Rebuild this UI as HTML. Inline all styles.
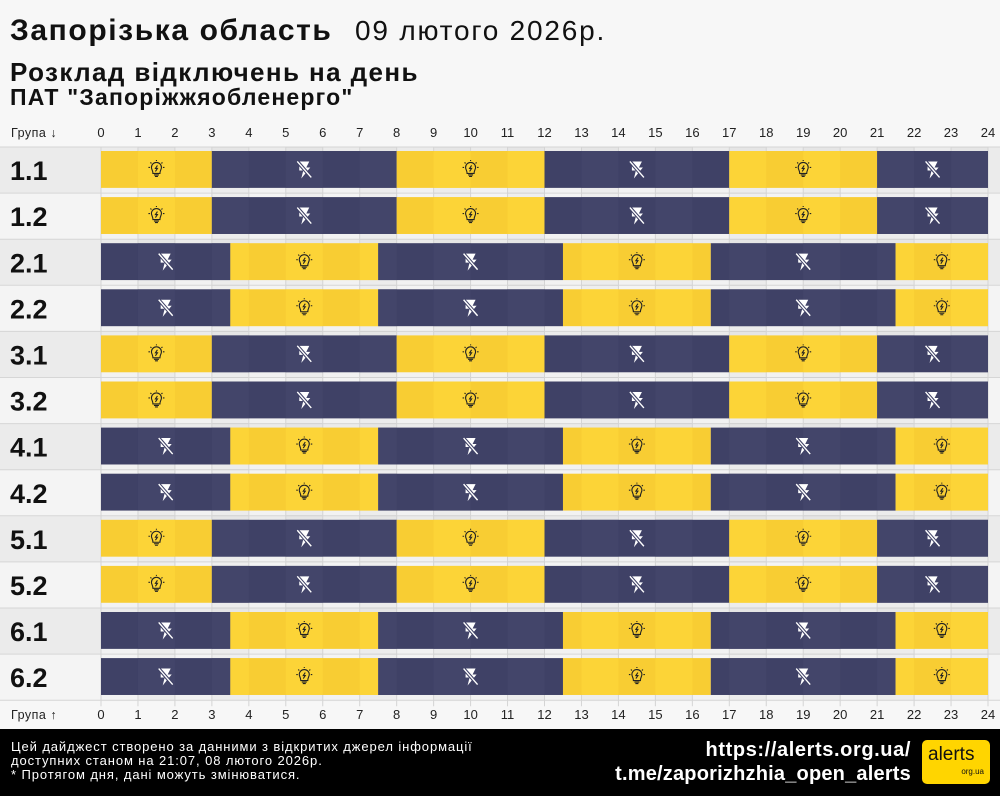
<!DOCTYPE html>
<html><head><meta charset="utf-8"><style>
body{margin:0;width:1000px;height:796px;background:#f7f7f7;font-family:"Liberation Sans",sans-serif;overflow:hidden;position:relative}
.t{position:absolute;white-space:nowrap;color:#111}
</style></head><body>
<div class="t" style="left:10px;top:14px;font-size:30px;font-weight:bold;letter-spacing:1.6px">Запорізька область</div>
<div class="t" style="left:355px;top:15px;font-size:28px;letter-spacing:1.8px">09 лютого 2026р.</div>
<div class="t" style="left:10px;top:57px;font-size:26px;font-weight:bold;letter-spacing:1.4px">Розклад відключень на день</div>
<div class="t" style="left:10px;top:84px;font-size:23px;font-weight:bold;letter-spacing:1.2px">ПАТ "Запоріжжяобленерго"</div>
<svg id="chart" width="1000" height="729" style="position:absolute;left:0;top:0"></svg>
<div style="position:absolute;left:0;top:729px;width:1000px;height:67px;background:#000"></div>
<div class="t" style="left:11px;top:740px;font-size:13px;line-height:14px;color:#fff;letter-spacing:0.9px">Цей дайджест створено за данними з відкритих джерел інформації<br>доступних станом на 21:07, 08 лютого 2026р.<br>* Протягом дня, дані можуть змінюватися.</div>
<div class="t" style="right:89px;top:739px;font-size:20px;font-weight:bold;color:#fff;letter-spacing:0.6px">https://alerts.org.ua/</div>
<div class="t" style="right:89px;top:763px;font-size:20px;font-weight:bold;color:#fff;letter-spacing:0.2px">t.me/zaporizhzhia_open_alerts</div>
<div style="position:absolute;left:922px;top:740px;width:68px;height:44px;background:#ffd500;border-radius:5px">
<div style="position:absolute;left:6px;top:4px;font-size:19px;color:#111">alerts</div>
<div style="position:absolute;right:6px;top:27px;font-size:8px;color:#111">org.ua</div></div>
<script>
const groups=["1.1","1.2","2.1","2.2","3.1","3.2","4.1","4.2","5.1","5.2","6.1","6.2"];
const hourTicks=[0,1,2,3,4,5,6,7,8,9,10,11,12,13,14,15,16,17,18,19,20,21,22,23,24];
// segments: [start,end,on(1)/off(0)]
const scheduleA=[[0,3,1],[3,8,0],[8,12,1],[12,17,0],[17,21,1],[21,24,0]];
const scheduleB=[[0,3.5,0],[3.5,7.5,1],[7.5,12.5,0],[12.5,16.5,1],[16.5,21.5,0],[21.5,24,1]];
const groupSchedule=["A","A","B","B","A","A","B","B","A","A","B","B"];
const NS="http://www.w3.org/2000/svg",svg=document.getElementById('chart');
const x0=101,x1=988,top0=147,pitch=46.1;
const X=h=>x0+(x1-x0)*h/24;
const Y=i=>top0+i*pitch;
function mk(t,a,p){const e=document.createElementNS(NS,t);for(const k in a)e.setAttribute(k,a[k]);(p||svg).appendChild(e);return e}
groups.forEach((g,i)=>{
 const r=mk('rect',{x:0,y:Y(i),width:1000,height:pitch,fill:i%2?'#f4f4f4':'#ebebeb'});
 
 
 mk('rect',{x:x0,y:Y(i)+pitch*0.83,width:x1-x0,height:pitch*0.17+1,fill:'#f2f2f2'});
 mk('line',{x1:0,x2:1000,y1:Y(i),y2:Y(i),stroke:'#d6d6d6','stroke-width':1});
});
hourTicks.forEach(h=>{if(h<24&&h%2==1)mk('rect',{x:X(h),y:top0,width:X(1)-X(0),height:pitch*12,fill:'#000','fill-opacity':0.025});
 mk('line',{x1:X(h),x2:X(h),y1:top0,y2:top0+pitch*12+6,stroke:'#d4d4d4','stroke-width':1});});
function bulb(cx,cy){const g=mk('g',{transform:`translate(${cx},${cy})`,fill:'none',stroke:'#222','stroke-width':1.1});
 mk('path',{d:'M-3.5,4 C-3.5,1 -5,0 -5,-2 A5,5 0 1 1 5,-2 C5,0 3.5,1 3.5,4 Z M-2.5,5.5 H2.5 M-1.5,7 H1.5 M1,-4 L-1,-1 H1 L-1,2 M-8,-2 H-6.5 M8,-2 H6.5 M-6,-7 L-5,-6 M6,-7 L5,-6 M0,-9.5 V-8.5'},g);return g}
function bolt(cx,cy){const g=mk('g',{transform:`translate(${cx},${cy})`});
 mk('path',{d:'M-5,-8 L5,-8 L2,-2 L6,-2 L-3,9 L-1,1 L-5,1 Z',fill:'#fff'},g);
 mk('line',{x1:-7,y1:-8,x2:7,y2:8,stroke:'#3f4166','stroke-width':3.5},g);
 mk('line',{x1:-7,y1:-8,x2:7,y2:8,stroke:'#fff','stroke-width':1.4},g);return g}
groups.forEach((g,i)=>{
 const segs=groupSchedule[i]=="A"?scheduleA:scheduleB;
 const by=Y(i)+4,bh=pitch*0.8;
 segs.forEach(s=>{
  const r=mk('rect',{x:X(s[0]),y:by,width:X(s[1])-X(s[0]),height:bh,fill:s[2]?'#f8cd33':'#3f4166'});
  
  
  for(let h=Math.floor(s[0]);h<s[1];h++){if(h%2==1){const a=Math.max(h,s[0]),b=Math.min(h+1,s[1]);
   mk('rect',{x:X(a),y:by,width:X(b)-X(a),height:bh,fill:s[2]?'#ffd83a':'#46486d','fill-opacity':0.6});}}
  const cx=X((s[0]+s[1])/2),cy=by+bh/2;
  const ic=s[2]?bulb(cx,cy):bolt(cx,cy);
  
  
 });
 const t=mk('text',{x:10,y:Y(i)+pitch/2+10,'font-size':27,'font-weight':'bold',fill:'#111','font-family':'Liberation Sans'});
 t.textContent=g;
 
 
});
mk('line',{x1:0,x2:1000,y1:top0+pitch*12,y2:top0+pitch*12,stroke:'#d6d6d6'});
[[137,'Група ↓','top-axis'],[719,'Група ↑','bottom-axis']].forEach(([yy,lab,nm])=>{
 const t=mk('text',{x:11,y:yy,'font-size':12.5,fill:'#222','font-family':'Liberation Sans','letter-spacing':0.5});t.textContent=lab;
 
 
 hourTicks.forEach(h=>{const k=mk('text',{x:X(h),y:yy,'font-size':13,fill:'#222','text-anchor':'middle','font-family':'Liberation Sans'});k.textContent=h;
  
  });
});
</script>
</body></html>
